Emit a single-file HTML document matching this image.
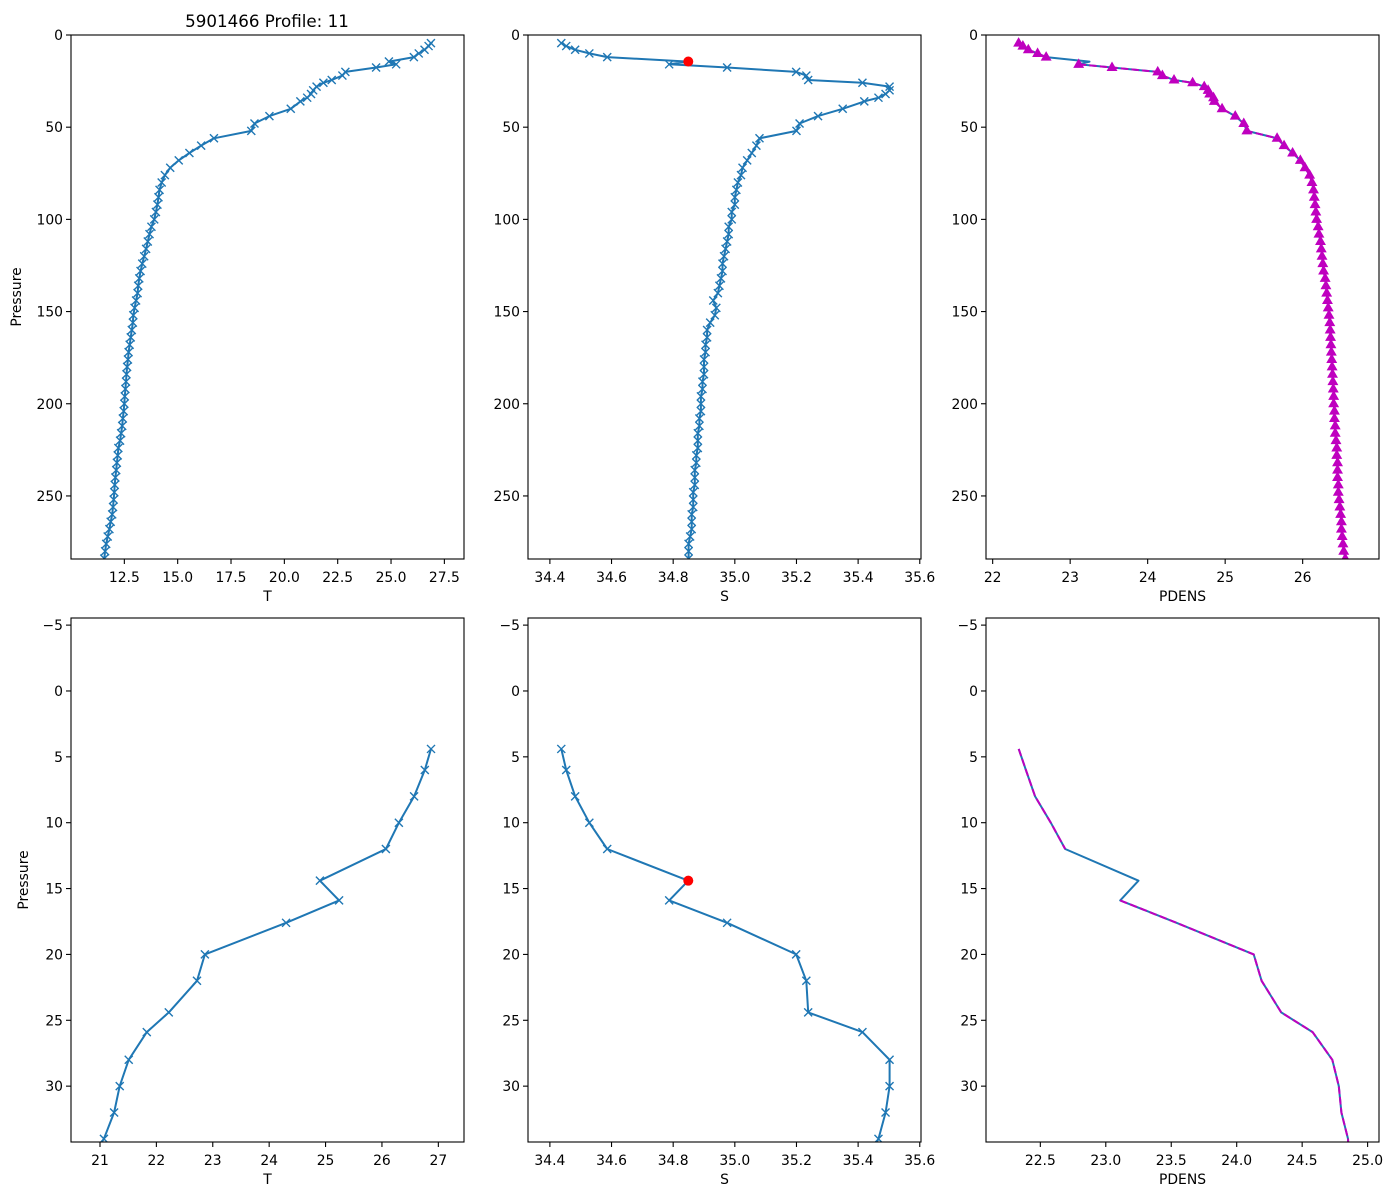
<!DOCTYPE html>
<html><head><meta charset="utf-8"><style>
html,body{margin:0;padding:0;background:#fff;width:1400px;height:1200px;overflow:hidden;}
svg{display:block;font-family:"DejaVu Sans","Liberation Sans",sans-serif;}
</style></head><body>
<svg id="fig" width="1400" height="1200" viewBox="0 0 1400 1200" xmlns="http://www.w3.org/2000/svg">
<rect width="1400" height="1200" fill="#fff"/>
<text x="267" y="27" font-size="16.7" text-anchor="middle">5901466 Profile: 11</text>
</svg>
<script>
const pressure = [4.4,6,8,10,12,14.4,15.9,17.6,20,22,24.4,25.9,28,30,32,34,
36,40,44,48,52,56,60,64,68,72,76,80,84,88,92,96,100,104,108,112,116,120,124,128,132,136,140,144,148,152,156,160,164,168,172,176,180,184,188,192,196,200,204,208,212,216,220,224,228,232,236,240,244,248,252,256,260,264,268,272,276,280,284];
const temperature = [26.87,26.76,26.57,26.30,26.07,24.90,25.24,24.30,22.86,22.72,22.22,21.83,21.51,21.35,21.25,21.07,
20.75,20.3,19.3,18.6,18.45,16.7,16.1,15.55,15.05,14.65,14.4,14.25,14.15,14.1,14.05,13.98,13.9,13.77,13.68,13.6,13.52,13.43,13.34,13.26,13.2,13.15,13.12,13.05,12.98,12.92,12.9,12.85,12.8,12.75,12.7,12.67,12.63,12.6,12.58,12.55,12.52,12.5,12.47,12.43,12.4,12.35,12.3,12.22,12.19,12.15,12.12,12.08,12.05,12.03,12.0,11.97,11.93,11.86,11.8,11.72,11.65,11.6,11.56];
const salinity = [34.437,34.453,34.482,34.528,34.586,34.849,34.787,34.975,35.199,35.232,35.238,35.414,35.502,35.502,35.489,35.466,
35.42,35.35,35.27,35.21,35.2,35.08,35.07,35.055,35.04,35.025,35.02,35.01,35.005,35.0,35.0,34.99,34.99,34.98,34.98,34.975,34.97,34.965,34.96,34.96,34.955,34.95,34.945,34.93,34.94,34.935,34.92,34.91,34.91,34.905,34.905,34.9,34.9,34.9,34.895,34.895,34.89,34.89,34.89,34.885,34.885,34.88,34.88,34.88,34.875,34.875,34.87,34.87,34.87,34.865,34.865,34.865,34.86,34.86,34.86,34.855,34.85,34.85,34.85];
const pdens = [22.335,22.39,22.46,22.58,22.69,23.25,23.11,23.54,24.13,24.19,24.34,24.58,24.73,24.78,24.80,24.85,
24.86,24.96,25.13,25.24,25.28,25.67,25.76,25.87,25.97,26.03,26.09,26.12,26.14,26.15,26.16,26.17,26.18,26.2,26.21,26.23,26.24,26.25,26.26,26.27,26.29,26.3,26.31,26.32,26.33,26.34,26.35,26.355,26.36,26.365,26.37,26.375,26.38,26.385,26.39,26.395,26.4,26.4,26.41,26.41,26.42,26.42,26.43,26.44,26.44,26.45,26.45,26.45,26.46,26.46,26.47,26.48,26.49,26.5,26.5,26.51,26.52,26.53,26.55];
const flaggedIndex = [5];
const topTTicks = [12.5,15.0,17.5,20.0,22.5,25.0,27.5];
const topSTicks = [34.4,34.6,34.8,35.0,35.2,35.4,35.6];
const topPTicks = [22,23,24,25,26];
const botTTicks = [21,22,23,24,25,26,27];
const botPTicks = [22.5,23.0,23.5,24.0,24.5,25.0];
const topYTicks = [0,50,100,150,200,250];
const botYTicks = [-5,0,5,10,15,20,25,30];

const NS='http://www.w3.org/2000/svg';
const svg=document.getElementById('fig');
const BLUE='#1f77b4';
function mk(tag,attrs,parent){const e=document.createElementNS(NS,tag);for(const k in attrs)e.setAttribute(k,attrs[k]);(parent||svg).appendChild(e);return e;}
function fmt(v,dec){let s=v.toFixed(dec);if(v<0)s='\u2212'+s.slice(1);return s;}

const panels=[
 {name:'top-temperature',x0:71,y0:35,xr:[10.0,28.42],yr:[0,284.2],xticks:topTTicks,xdec:1,yticks:topYTicks,xl:'T',vals:temperature,kind:'x',ylabel:true,ylx:21},
 {name:'top-salinity',x0:528,y0:35,xr:[34.329,35.604],yr:[0,284.2],xticks:topSTicks,xdec:1,yticks:topYTicks,xl:'S',vals:salinity,kind:'xs',ylabel:false},
 {name:'top-pdens',x0:986,y0:35,xr:[21.914,26.985],yr:[0,284.2],xticks:topPTicks,xdec:0,yticks:topYTicks,xl:'PDENS',vals:pdens,kind:'p',tri:true,ylabel:false},
 {name:'bottom-temperature',x0:71,y0:618,xr:[20.486,27.455],yr:[-5.54,34.24],xticks:botTTicks,xdec:0,yticks:botYTicks,xl:'T',vals:temperature,kind:'x',ylabel:true,ylx:28},
 {name:'bottom-salinity',x0:528,y0:618,xr:[34.329,35.604],yr:[-5.54,34.24],xticks:topSTicks,xdec:1,yticks:botYTicks,xl:'S',vals:salinity,kind:'xs',ylabel:false},
 {name:'bottom-pdens',x0:986,y0:618,xr:[22.085,25.087],yr:[-5.54,34.24],xticks:botPTicks,xdec:1,yticks:botYTicks,xl:'PDENS',vals:pdens,kind:'p',tri:false,ylabel:false}
];
const W=393,H=524;

panels.forEach(pn=>{
 const g=mk('g',{});
 
 
 const sx=v=>pn.x0+(v-pn.xr[0])/(pn.xr[1]-pn.xr[0])*W;
 const sy=v=>pn.y0+(v-pn.yr[0])/(pn.yr[1]-pn.yr[0])*H;
 const cp=mk('clipPath',{id:'clip-'+pn.name},g);
 mk('rect',{x:pn.x0,y:pn.y0,width:W,height:H},cp);
 const plot=mk('g',{'clip-path':'url(#clip-'+pn.name+')'},g);
 
 
 const pts=pn.vals.map((v,i)=>[sx(v),sy(pressure[i])]);
 const d='M'+pts.map(p=>p[0].toFixed(1)+','+p[1].toFixed(1)).join('L');
 const line=mk('path',{d:d,fill:'none',stroke:BLUE,'stroke-width':2,'stroke-linejoin':'round'},plot);
 
 
 if(pn.kind==='x'||pn.kind==='xs'){
  pts.forEach((p,i)=>{
   if(pn.kind==='xs'&&flaggedIndex.includes(i))return;
   const m=mk('path',{d:`M${p[0]-4},${p[1]-4}L${p[0]+4},${p[1]+4}M${p[0]-4},${p[1]+4}L${p[0]+4},${p[1]-4}`,stroke:BLUE,'stroke-width':1.4,fill:'none'},plot);
   
   
  });
 }
 if(pn.kind==='xs'){
  flaggedIndex.forEach(i=>{
   const c=mk('circle',{cx:pts[i][0],cy:pts[i][1],r:5,fill:'#ff0000'},plot);
   
   
  });
 }
 if(pn.kind==='p'){
  // magenta dashed line breaks at flagged (NaN) points
  let segs=[],cur=[];
  pts.forEach((p,i)=>{
   if(flaggedIndex.includes(i)){if(cur.length)segs.push(cur);cur=[];}
   else cur.push(p);
  });
  if(cur.length)segs.push(cur);
  const d2=segs.map(s=>'M'+s.map(p=>p[0].toFixed(1)+','+p[1].toFixed(1)).join('L')).join('');
  const ml=mk('path',{d:d2,fill:'none',stroke:'#bf00bf','stroke-width':2,'stroke-dasharray':'7.4,3.2'},plot);
  
  
  if(pn.tri){
   pts.forEach((p,i)=>{
    if(flaggedIndex.includes(i))return;
    const t=mk('path',{d:`M${p[0]},${p[1]-5}L${p[0]+4.6},${p[1]+3}L${p[0]-4.6},${p[1]+3}Z`,fill:'#bf00bf',stroke:'#bf00bf','stroke-width':1},plot);
    
    
   });
  }
 }
 const frame=mk('rect',{x:pn.x0,y:pn.y0,width:W,height:H,fill:'none',stroke:'#000','stroke-width':1.1},g);
 
 
 pn.xticks.forEach(v=>{
  const x=sx(v);
  const tk=mk('line',{x1:x,x2:x,y1:pn.y0+H,y2:pn.y0+H+5,stroke:'#000','stroke-width':1.1},g);
  
  
  const tl=mk('text',{x:x,y:pn.y0+H+23,'font-size':13.9,'text-anchor':'middle'},g);
  tl.textContent=fmt(v,pn.xdec);
  
  
 });
 pn.yticks.forEach(v=>{
  const y=sy(v);
  const tk=mk('line',{x1:pn.x0-5,x2:pn.x0,y1:y,y2:y,stroke:'#000','stroke-width':1.1},g);
  
  
  const tl=mk('text',{x:pn.x0-8,y:y+5,'font-size':13.9,'text-anchor':'end'},g);
  tl.textContent=fmt(v,0);
  
  
 });
 const xl=mk('text',{x:pn.x0+W/2,y:pn.y0+H+42,'font-size':13.9,'text-anchor':'middle'},g);
 xl.textContent=pn.xl;
 
 
 if(pn.ylabel){
  const cy=pn.y0+H/2;
  const yl=mk('text',{x:pn.ylx,y:cy,'font-size':13.9,'text-anchor':'middle',transform:`rotate(-90 ${pn.ylx} ${cy})`},g);
  yl.textContent='Pressure';
  
  
 }
});
</script>
</body></html>
